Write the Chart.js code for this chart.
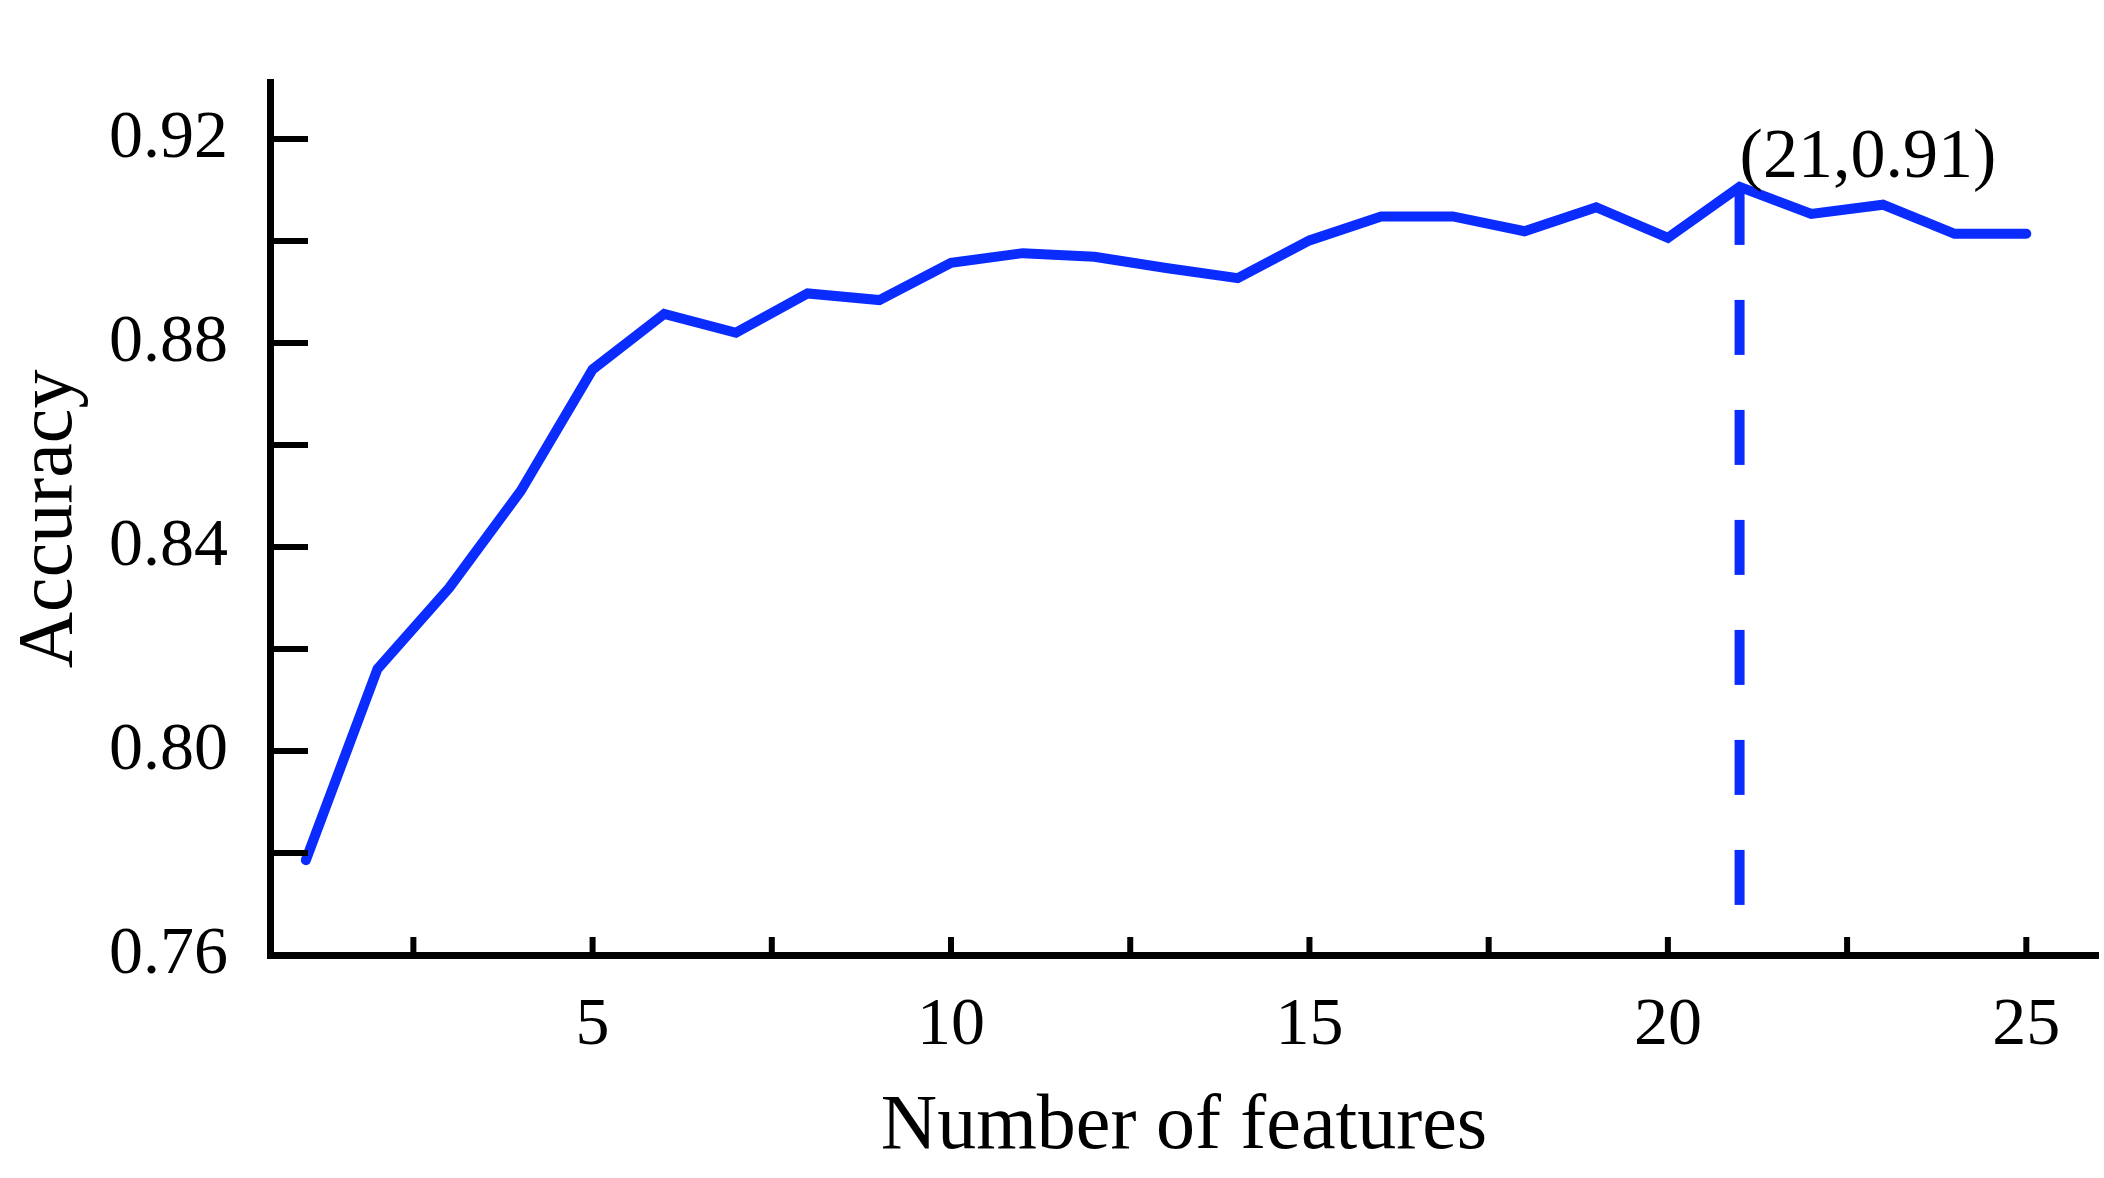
<!DOCTYPE html>
<html><head><meta charset="utf-8">
<script src="https://cdn.jsdelivr.net/npm/chart.js@4"></script>
<style>html,body{margin:0;padding:0;background:#fff}#c{display:block}</style>
</head><body>
<canvas id="c" width="2104" height="1178"></canvas>
<script>
const features = [1,2,3,4,5,6,7,8,9,10,11,12,13,14,15,16,17,18,19,20,21,22,23,24,25];
const accuracy = [0.7786,0.8161,0.832,0.851,0.8748,0.8857,0.882,0.8897,0.8884,0.8957,0.8976,0.8969,0.8947,0.8927,0.9001,0.9048,0.9048,0.9019,0.9066,0.9006,0.9106,0.9053,0.9071,0.9014,0.9014];
const xTicks = [2.5,5,7.5,10,12.5,15,17.5,20,22.5,25];
const yTicks = [0.76,0.78,0.80,0.82,0.84,0.86,0.88,0.90,0.92];
const bestX = 21, bestY = 0.91, bestLabel = "(21,0.91)";
const font = "'Liberation Serif', 'Times New Roman', serif";

const tickPlugin = {
  id:'ticks',
  afterDatasetsDraw(chart){
    const {ctx, scales:{x,y}, chartArea:a} = chart;
    ctx.save();
    ctx.strokeStyle='#000'; ctx.lineWidth=6;
    xTicks.forEach(v=>{const px=x.getPixelForValue(v);ctx.beginPath();ctx.moveTo(px,a.bottom);ctx.lineTo(px,a.bottom-18);ctx.stroke();});
    yTicks.forEach(v=>{const py=y.getPixelForValue(v);ctx.beginPath();ctx.moveTo(a.left,py);ctx.lineTo(a.left+38,py);ctx.stroke();});
    const bx=x.getPixelForValue(bestX), by=y.getPixelForValue(bestY);
    ctx.strokeStyle='#0a2cff'; ctx.lineWidth=10; ctx.setLineDash([55,55]);
    ctx.beginPath(); ctx.moveTo(bx,by); ctx.lineTo(bx,a.bottom-10); ctx.stroke();
    ctx.setLineDash([]);
    ctx.fillStyle='#000'; ctx.font="70px "+font; ctx.textAlign='left'; ctx.textBaseline='bottom';
    ctx.fillText(bestLabel, bx, by+4);
    ctx.restore();
  }
};

new Chart(document.getElementById('c'), {
  type:'line',
  data:{datasets:[{data:features.map((f,i)=>({x:f,y:accuracy[i]})),borderColor:'#0a2cff',borderWidth:10,pointRadius:0,tension:0,fill:false,borderCapStyle:'round'}]},
  options:{
    responsive:false, animation:false, devicePixelRatio:1,
    layout:{padding:{top:-27,right:6,left:0,bottom:0}},
    plugins:{legend:{display:false},tooltip:{enabled:false}},
    scales:{
      x:{type:'linear',min:0.5,max:26,
        afterBuildTicks(s){s.ticks=xTicks.map(v=>({value:v}));},
        afterFit(s){s.height=223;},
        grid:{display:false,drawTicks:false},
        border:{color:'#000',width:7},
        ticks:{padding:30,autoSkip:false,maxRotation:0,color:'#000',font:{family:font,size:68},callback:v=>v%5===0?String(v):''},
        title:{display:true,text:'Number of features',color:'#000',font:{family:font,size:78},padding:{top:36}}
      },
      y:{type:'linear',min:0.76,max:0.931,
        afterBuildTicks(s){s.ticks=yTicks.map(v=>({value:v}));},
        afterFit(s){s.width=270;},
        grid:{display:false,drawTicks:false},
        border:{color:'#000',width:7},
        ticks:{padding:42,autoSkip:false,color:'#000',font:{family:font,size:68},callback:v=>Math.round(v*100)%4===0?v.toFixed(2):''},
        title:{display:true,text:'Accuracy',color:'#000',font:{family:font,size:78},padding:{bottom:0}}
      }
    }
  },
  plugins:[tickPlugin]
});
</script>
</body></html>
